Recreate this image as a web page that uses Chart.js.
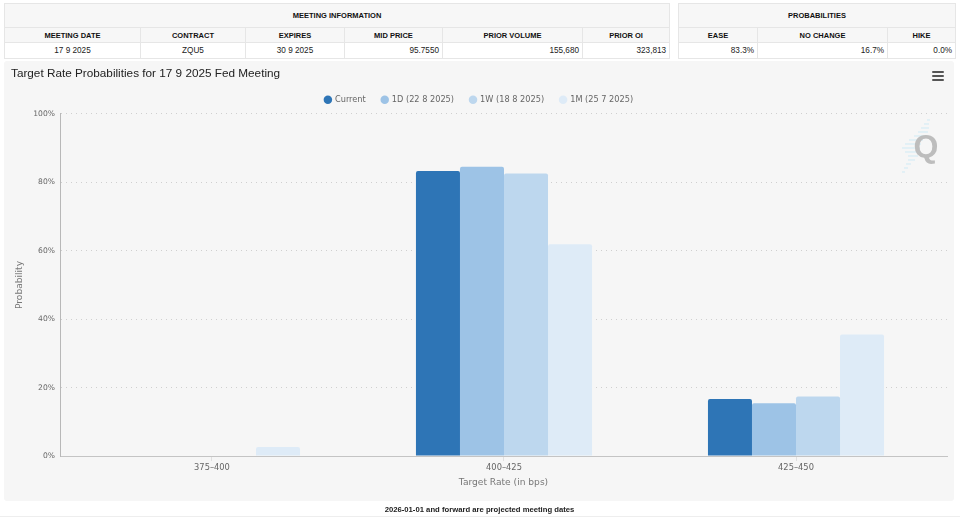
<!DOCTYPE html>
<html>
<head>
<meta charset="utf-8">
<script src="https://cdn.jsdelivr.net/npm/chart.js@4/dist/chart.umd.min.js"></script>
<style>
  html, body { margin: 0; padding: 0; background: #fff; overflow: hidden; }
  #page { position: relative; width: 960px; height: 518px; font-family: "Liberation Sans", Arial, sans-serif; }
  table { position: absolute; top: 3px; height: 56px; border-collapse: collapse; table-layout: fixed; font-size: 8.2px; color: #222; }
  th, td { border: 1px solid #e6e6e6; padding: 0 3px; text-align: center; height: 14px; box-sizing: border-box; }
  th { background: #f7f7f7; font-size: 7.5px; color: #111; }
  tr.top th { height: 24px; }
  tr.head th { height: 15px; }
  tr.vals td { height: 16px; }
  td.r { text-align: right; }
  #panel { position: absolute; left: 4px; top: 61px; width: 950px; height: 440px; background: #f6f6f6; border-radius: 3px; }
  #c { position: absolute; left: 0; top: 0; }
  #menu { position: absolute; left: 932px; top: 71px; width: 12px; }
  #menu div { height: 2px; background: #555; margin-bottom: 2px; border-radius: 1px; }
  #note { position: absolute; left: 0; width: 959px; top: 505px; text-align: center; font-size: 7.7px; font-weight: bold; color: #222; }
  #rule { position: absolute; left: 0; width: 960px; top: 516px; height: 1px; background: #eee; }
</style>
</head>
<body>
<div id="page">
  <table style="left:4px;width:665px">
    <colgroup><col style="width:136px"><col style="width:105px"><col style="width:99px"><col style="width:98px"><col style="width:140px"><col style="width:87px"></colgroup>
    <tr class="top"><th colspan="6">MEETING INFORMATION</th></tr>
    <tr class="head"><th>MEETING DATE</th><th>CONTRACT</th><th>EXPIRES</th><th>MID PRICE</th><th>PRIOR VOLUME</th><th>PRIOR OI</th></tr>
    <tr class="vals"><td>17 9 2025</td><td>ZQU5</td><td>30 9 2025</td><td class="r">95.7550</td><td class="r">155,680</td><td class="r">323,813</td></tr>
  </table>
  <table style="left:678px;width:277px">
    <colgroup><col style="width:79px"><col style="width:130px"><col style="width:68px"></colgroup>
    <tr class="top"><th colspan="3">PROBABILITIES</th></tr>
    <tr class="head"><th>EASE</th><th>NO CHANGE</th><th>HIKE</th></tr>
    <tr class="vals"><td class="r">83.3%</td><td class="r">16.7%</td><td class="r">0.0%</td></tr>
  </table>
  <div id="panel"></div>
  <canvas id="c" width="960" height="518"></canvas>
  <div id="menu"><div></div><div></div><div></div></div>
  <div id="note">2026-01-01 and forward are projected meeting dates</div>
  <div id="rule"></div>
</div>
<script>
const categories = ["375\u2013400", "400\u2013425", "425\u2013450"];
const seriesNames = ["Current", "1D (22 8 2025)", "1W (18 8 2025)", "1M (25 7 2025)"];
const seriesColors = ["#2e75b6", "#9dc3e6", "#bdd7ee", "#deebf7"];
const current = [0, 83.3, 16.7];
const oneDay = [0, 84.6, 15.4];
const oneWeek = [0, 82.6, 17.4];
const oneMonth = [2.6, 61.9, 35.5];
const seriesValues = [current, oneDay, oneWeek, oneMonth];
const yTicks = [0, 20, 40, 60, 80, 100];

const labelFont = "'DejaVu Sans', Verdana, sans-serif";

// the Q mark behind the bars, top right of the plot
const watermark = {
  id: "watermark",
  beforeDatasetsDraw(chart) {
    const ctx = chart.ctx;
    ctx.save();
    ctx.strokeStyle = "#cfeaf5";
    ctx.lineWidth = 1;
    const stripes = [[927, 120, 3], [924, 124, 5], [921, 128, 8], [918, 132, 10], [914, 136, 12], [909, 140, 14], [905, 144, 16], [902, 148, 18], [905, 152, 14], [908, 156, 10], [908, 160, 7], [906, 164, 5], [904, 168, 4], [902, 172, 3]];
    stripes.forEach(s => {
      ctx.beginPath();
      ctx.moveTo(s[0], s[1]);
      ctx.lineTo(s[0] + s[2], s[1]);
      ctx.stroke();
    });
    ctx.fillStyle = "#bdbdbd";
    ctx.font = "bold 32px 'Liberation Sans', Arial, sans-serif";
    ctx.textAlign = "center";
    ctx.textBaseline = "middle";
    ctx.fillText("Q", 926, 148);
    ctx.restore();
  }
};

new Chart(document.getElementById("c"), {
  type: "bar",
  data: {
    datasets: seriesNames.map((name, i) => ({
      label: name,
      data: seriesValues[i].map((v, k) => ({ x: k, y: v })),
      backgroundColor: seriesColors[i],
      borderRadius: { topLeft: 2, topRight: 2 },
      borderSkipped: "bottom",
      barPercentage: 1,
      categoryPercentage: 0.603
    }))
  },
  plugins: [watermark],
  options: {
    responsive: false,
    animation: false,
    layout: { padding: { left: 11, right: 13, top: 62, bottom: 0 } },
    plugins: {
      title: {
        display: true,
        text: "Target Rate Probabilities for 17 9 2025 Fed Meeting",
        align: "start",
        color: "#222",
        font: { family: "'Liberation Sans', Arial, sans-serif", size: 11.75, weight: "normal", lineHeight: 1 },
        padding: { top: 6, bottom: 0 }
      },
      legend: {
        display: true,
        labels: {
          usePointStyle: true,
          pointStyle: "circle",
          boxWidth: 6,
          boxHeight: 6,
          padding: 16,
          color: "#666",
          font: { family: labelFont, size: 8.2 }
        }
      },
      tooltip: { enabled: false }
    },
    scales: {
      x: {
        type: "linear",
        offset: false,
        min: -0.5205,
        max: 2.5171,
        afterBuildTicks(scale) { scale.ticks = categories.map((c, k) => ({ value: k })); },
        afterFit(scale) { scale.height = 62; },
        ticks: {
          callback: v => categories[v],
          color: "#666",
          font: { family: labelFont, size: 8.3 },
          maxRotation: 0,
          padding: 2
        },
        grid: { offset: false, drawOnChartArea: false, drawTicks: true, tickLength: 5, color: "#e0e0e0" },
        border: { color: "#c4c4c4" },
        title: {
          display: true,
          text: "Target Rate (in bps)",
          color: "#777",
          font: { family: labelFont, size: 9.1 },
          padding: { top: 0, bottom: 30 }
        }
      },
      y: {
        min: 0,
        max: 100,
        afterBuildTicks(scale) { scale.ticks = yTicks.map(v => ({ value: v })); },
        afterFit(scale) { scale.width = 49; },
        ticks: {
          callback: v => v + "%",
          color: "#666",
          font: { family: labelFont, size: 7.6 },
          padding: 5
        },
        grid: { drawTicks: false, color: "#cfcfcf", lineWidth: 1 },
        border: { color: "#b8b8b8", dash: [1, 4] },
        title: {
          display: true,
          text: "Probability",
          color: "#777",
          font: { family: labelFont, size: 9.1 },
          padding: { top: 3, bottom: 0 }
        }
      }
    }
  }
});
</script>
</body>
</html>
